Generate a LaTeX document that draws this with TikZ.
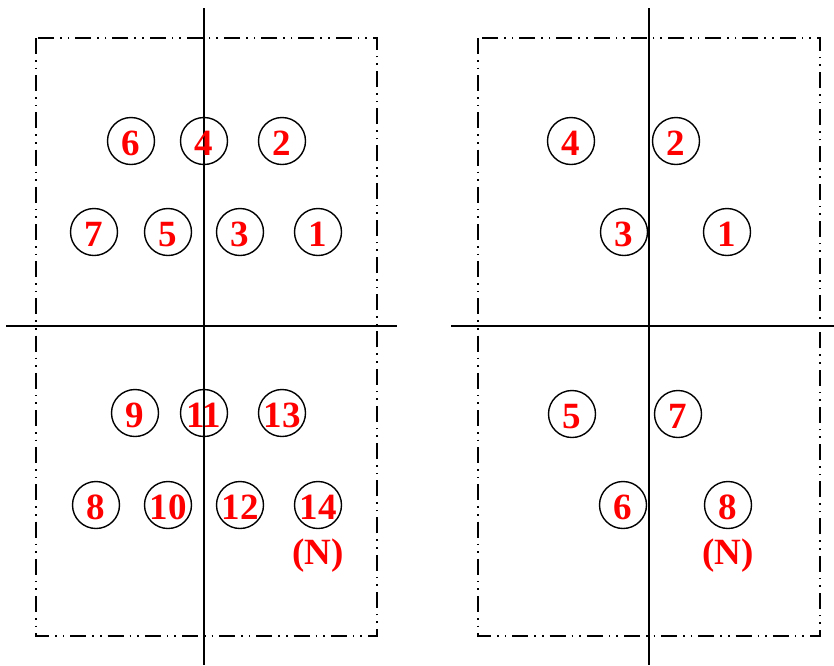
\documentclass[tikz,border=0pt]{standalone}
\usepackage{fontspec}
\setmainfont{Liberation Serif}
\usetikzlibrary{positioning}

\begin{document}
\begin{tikzpicture}[
                        x=1pt, y=-1pt,
                        font=\fontsize{37}{40}\selectfont\bfseries,
                        cell/.style={
                                circle, draw=black, line width=1.4pt,
                                minimum size=47pt, inner sep=0pt,
                                text height=29pt, text depth=0pt,
                                text=red
                            },
                        axis/.style={line width=1.6pt, draw=black},
                        frame/.style={line width=1.4pt, draw=black,
                                dash pattern=on 16pt off 6pt on 1.6pt off 6pt on 1.6pt off 6pt},
                        mark label/.style={text=red, inner sep=0pt}
                    ]
                    \useasboundingbox (0,0) rectangle (834,665);

                    % ===== Left panel =====
                    \draw[frame] (36,38) rectangle (377,636);
                    \draw[axis] (204,8) -- (204,665);
                    \draw[axis] (6,326) -- (397,326);

                    \node[cell] (L6) at (131,141) {6};
                    \node[cell] (L4) at (204,141) {4};
                    \node[cell] (L2) at (282,141) {2};
                    \node[cell] (L7) at (94,232) {7};
                    \node[cell] (L5) at (168,232) {5};
                    \node[cell] (L3) at (240,232) {3};
                    \node[cell] (L1) at (318,232) {1};

                    \node[cell] (L9) at (135,413) {9};
                    \node[cell] (L11) at (204,413) {11};
                    \node[cell] (L13) at (282,413) {13};
                    \node[cell] (L8) at (96,505) {8};
                    \node[cell] (L10) at (168,505) {10};
                    \node[cell] (L12) at (240,505) {12};
                    \node[cell] (L14) at (318,505) {14};
                    \node[mark label, below=9pt of L14] (LN) {(N)};

                    % ===== Right panel =====
                    \draw[frame] (478,38) rectangle (820,636);
                    \draw[axis] (649,8) -- (649,665);
                    \draw[axis] (451,326) -- (834,326);

                    \node[cell] (R4) at (571,141) {4};
                    \node[cell] (R2) at (676,141) {2};
                    \node[cell] (R3) at (624,232) {3};
                    \node[cell] (R1) at (727,232) {1};

                    \node[cell] (R5) at (572,414) {5};
                    \node[cell] (R7) at (678,414) {7};
                    \node[cell] (R6) at (623,505) {6};
                    \node[cell] (R8) at (728,505) {8};
                    \node[mark label, below=9pt of R8] (RN) {(N)};

                \end{tikzpicture}
\end{document}
